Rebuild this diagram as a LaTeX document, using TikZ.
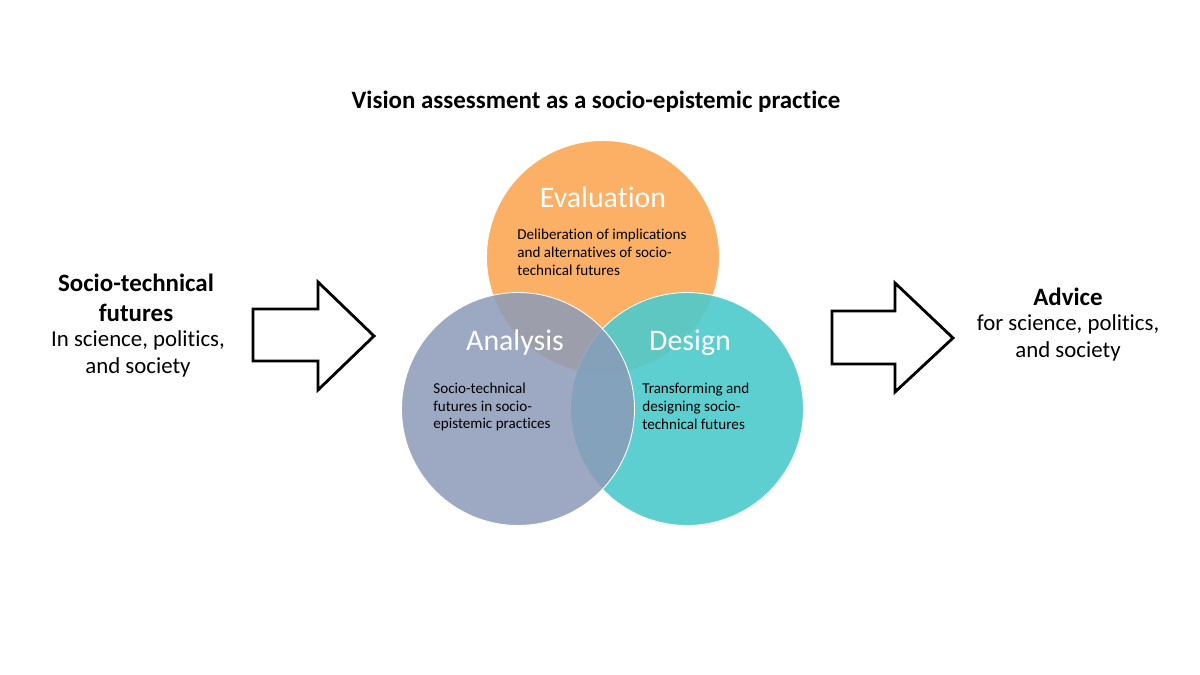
\documentclass[tikz,border=0pt]{standalone}
\usepackage{fontspec}
\setmainfont{Carlito}[Ligatures=NoCommon]
\usetikzlibrary{positioning}
\definecolor{evorange}{RGB}{251,176,101}
\definecolor{anblue}{RGB}{140,155,185}
\definecolor{deteal}{RGB}{77,202,203}
\tikzset{
  ring/.style={circle, minimum size=4.66cm, inner sep=0pt, draw=white, line width=0.5pt},
  ringtitle/.style={text=white, font=\fontsize{17}{20}\selectfont},
  ringtext/.style={align=left, anchor=west, inner sep=0pt, font=\fontsize{8.6}{10.2}\selectfont},
  sidehead/.style={align=center, inner sep=0pt, font=\fontsize{14.2}{17}\selectfont\bfseries},
  sidetext/.style={align=center, inner sep=0pt, font=\fontsize{13}{15.6}\selectfont},
  fatarrow/.style={draw=black, line width=1.6pt, fill=white, miter limit=10},
}

\begin{document}
\begin{tikzpicture}[x=0.02cm, y=-0.02cm]
            \useasboundingbox[fill=white] (0,0) rectangle (1200,675);
            % title
            \node[font=\fontsize{14.2}{17}\selectfont\bfseries] (title) at (596,102) {Vision assessment as a socio-epistemic practice};
            % the three circles
            \node[ring, fill=evorange] (ev) at (603,257) {};
            \node[ring, fill=deteal, fill opacity=0.9] (de) at (687,409) {};
            \node[ring, fill=anblue, fill opacity=0.85] (an) at (518,409) {};
            \node[ringtitle] (evt) at (603,197) {Evaluation};
            \node[ringtitle] (ant) at (515,343) {Analysis};
            \node[ringtitle] (det) at (690,343) {Design};
            \node[ringtext] (evb) at (517,252) {Deliberation of implications\\and alternatives of socio-\\technical futures};
            \node[ringtext] (anb) at (433,407) {Socio-technical\\futures in socio-\\epistemic practices};
            \node[ringtext] (deb) at (642,406) {Transforming and\\designing socio-\\technical futures};
            % input and output
            \node[sidehead] (inh) at (136,298) {Socio-technical\\futures};
            \node[sidetext] (in) at (138,354) {In science, politics,\\and society};
            \node[sidehead] (outh) at (1068,297) {Advice};
            \node[sidetext] (out) at (1068,338) {for science, politics,\\and society};
            \draw[fatarrow] (253,309) -- (318,309) -- (318,282) -- (374,336) -- (318,390) -- (318,361) -- (253,361) -- cycle;
            \draw[fatarrow] (832,311) -- (895,311) -- (895,283) -- (953,338) -- (895,392) -- (895,364) -- (832,364) -- cycle;
\end{tikzpicture}
\end{document}
